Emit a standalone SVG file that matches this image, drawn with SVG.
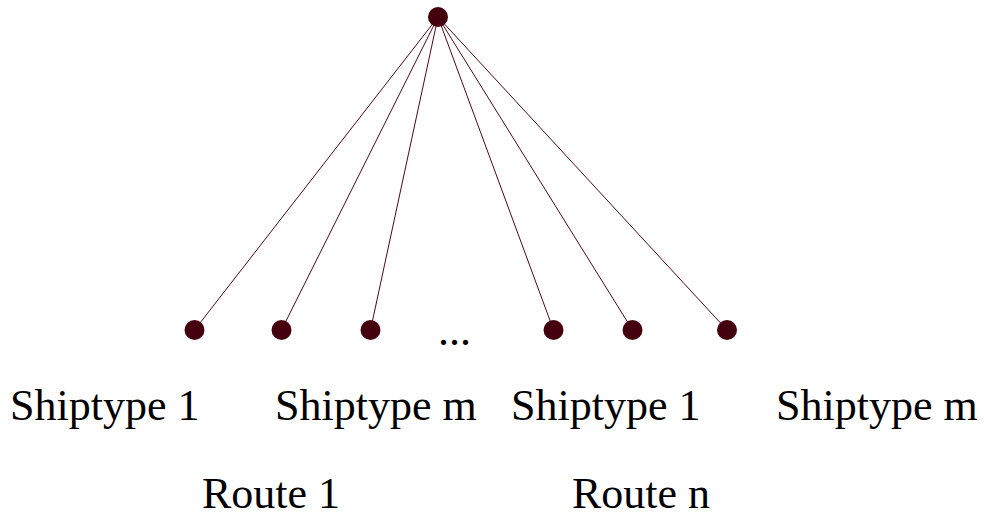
<svg xmlns="http://www.w3.org/2000/svg" width="986" height="519" viewBox="0 0 986 519">
  <style>
    .edge { stroke: #4a0a18; stroke-width: 1; fill: none; }
    .node { fill: #44000f; }
    .label { font-family: "Liberation Serif", "Times New Roman", serif; font-size: 44px; fill: #000; }
  </style>
  <rect width="986" height="519" fill="#fff"/>
  <!-- connectors from the root to each leaf -->
  <g id="connectors">
    <line class="edge" x1="438" y1="17" x2="194.5" y2="330"/>
    <line class="edge" x1="438" y1="17" x2="281.5" y2="330"/>
    <line class="edge" x1="438" y1="17" x2="370.5" y2="330"/>
    <line class="edge" x1="438" y1="17" x2="553.5" y2="330"/>
    <line class="edge" x1="438" y1="17" x2="632.5" y2="330"/>
    <line class="edge" x1="438" y1="17" x2="727" y2="330"/>
  </g>
  <g id="root"><circle class="node" cx="438" cy="17" r="10"/></g>
  <g id="leaf-r1-s1"><circle class="node" cx="194.5" cy="330" r="10"/></g>
  <g id="leaf-r1-s2"><circle class="node" cx="281.5" cy="330" r="10"/></g>
  <g id="leaf-r1-sm"><circle class="node" cx="370.5" cy="330" r="10"/></g>
  <g id="leaf-rn-s1"><circle class="node" cx="553.5" cy="330" r="10"/></g>
  <g id="leaf-rn-s2"><circle class="node" cx="632.5" cy="330" r="10"/></g>
  <g id="leaf-rn-sm"><circle class="node" cx="727" cy="330" r="10"/></g>
  <!-- labels -->
  <text class="label" x="438" y="345" font-size="36">...</text>
  <text class="label" x="10" y="420">Shiptype 1</text>
  <text class="label" x="275" y="420">Shiptype m</text>
  <text class="label" x="511" y="420">Shiptype 1</text>
  <text class="label" x="776" y="420">Shiptype m</text>
  <text class="label" x="202" y="508">Route 1</text>
  <text class="label" x="572" y="508">Route n</text>
</svg>
